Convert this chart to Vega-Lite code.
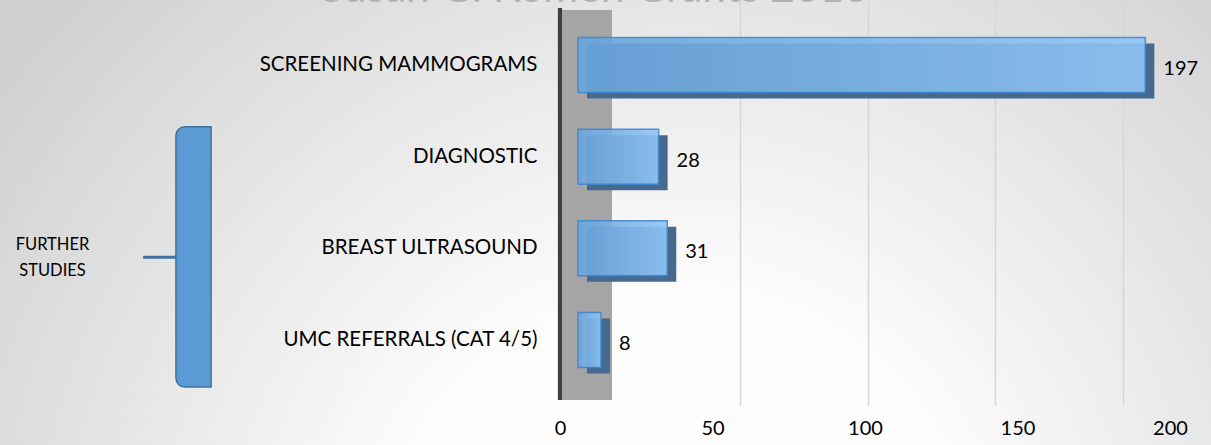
{
  "$schema": "https://vega.github.io/schema/vega-lite/v6.json",
  "width": 1211,
  "height": 445,
  "autosize": {"type": "none"},
  "padding": 0,
  "background": "#e6e6e6",
  "view": {
    "stroke": null,
    "fill": {
      "gradient": "radial",
      "x1": 0.56, "y1": 0.8, "r1": 0,
      "x2": 0.56, "y2": 0.8, "r2": 0.7,
      "stops": [
        {"offset": 0, "color": "#ffffff"},
        {"offset": 0.35, "color": "#fcfcfc"},
        {"offset": 1, "color": "#d0d0d0"}
      ]
    }
  },
  "config": {"font": "Lato"},
  "datasets": {
    "services": [
      {"category": "SCREENING MAMMOGRAMS", "count": 197},
      {"category": "DIAGNOSTIC", "count": 28},
      {"category": "BREAST ULTRASOUND", "count": 31},
      {"category": "UMC REFERRALS  (CAT 4/5)", "count": 8}
    ],
    "groups": [
      {"group": "FURTHER STUDIES", "category": "DIAGNOSTIC", "last": "UMC REFERRALS  (CAT 4/5)"}
    ]
  },
  "layer": [
    {
      "data": {"name": "services"},
      "mark": {"type": "point", "opacity": 0},
      "encoding": {
        "x": {
          "field": "count", "type": "quantitative",
          "scale": {"domain": [-239.53, 234.44], "nice": false, "zero": false},
          "axis": {
            "orient": "top", "values": [50, 100, 150, 200], "grid": true, "gridColor": "#d6d6d6", "gridWidth": 1.5, "labels": false, "ticks": false, "domain": false,
            "title": "Susan G. Komen Grants 2013", "titleFontSize": 42.5, "titleFontWeight": "normal", "titleFont": "Lato", "titleColor": "#b3b3b3",
            "titleAlign": "center", "titleBaseline": "alphabetic", "titleX": 594, "titleY": 1.5, "titleAngle": 0
          }
        },
        "y": {
          "field": "category", "type": "nominal",
          "scale": {"domain": ["SCREENING MAMMOGRAMS", "DIAGNOSTIC", "BREAST ULTRASOUND", "UMC REFERRALS  (CAT 4/5)"], "range": [0, 405], "paddingInner": 0.4, "paddingOuter": 0.408},
          "axis": {
            "orient": "left", "offset": -541, "labelPadding": 4, "labelFontSize": 20.5, "labelLimit": 400, "labelColor": "#000000", "labelFont": "Lato",
            "ticks": false, "domain": false, "grid": false,
            "title": ["FURTHER", "STUDIES"], "titleAngle": 0, "titleFontSize": 16.5, "titleFontWeight": "normal", "titleFont": "Lato",
            "titleColor": "#000000", "titleAlign": "center", "titleBaseline": "top", "titleX": -489, "titleY": 236, "titleLineHeight": 26
          }
        }
      }
    },
    {
      "data": {"name": "services"},
      "mark": {"type": "rule", "color": "#a5a5a5", "strokeWidth": 52, "xOffset": 26, "yOffset": -55, "y2Offset": 60},
      "encoding": {
        "x": {"datum": 0, "scale": {"domain": [-183.6, 213.45], "nice": false, "zero": false}, "axis": null},
        "y": {"datum": "SCREENING MAMMOGRAMS", "type": "nominal"},
        "y2": {"datum": "UMC REFERRALS  (CAT 4/5)"}
      }
    },
    {
      "data": {"name": "services"},
      "mark": {"type": "rule", "color": "#3f3f3f", "strokeWidth": 4, "yOffset": -57, "y2Offset": 60},
      "encoding": {
        "x": {"datum": 0, "scale": {"domain": [-183.6, 213.45], "nice": false, "zero": false}, "axis": null},
        "y": {"datum": "SCREENING MAMMOGRAMS", "type": "nominal"},
        "y2": {"datum": "UMC REFERRALS  (CAT 4/5)"}
      }
    },
    {
      "data": {"name": "groups"},
      "mark": {"type": "rule", "color": "#41719c", "strokeWidth": 3, "yOffset": 9},
      "encoding": {
        "x": {"datum": -151, "scale": {"domain": [-200.69, 219.8], "nice": false, "zero": false}, "axis": null},
        "x2": {"datum": -138},
        "y": {"datum": "BREAST ULTRASOUND", "type": "nominal"}
      }
    },
    {
      "data": {"name": "groups"},
      "mark": {"type": "rect", "fill": "#5b9bd5", "stroke": "#41719c", "strokeWidth": 1.5, "cornerRadiusTopLeft": 9, "cornerRadiusBottomLeft": 9, "yOffset": -30, "y2Offset": 47},
      "encoding": {
        "x": {"datum": -139.6, "scale": {"domain": [-200.69, 219.8], "nice": false, "zero": false}, "axis": null},
        "x2": {"datum": -127.4},
        "y": {"field": "category", "type": "nominal"},
        "y2": {"field": "last"}
      }
    },
    {
      "data": {"name": "services"},
      "mark": {"type": "bar", "color": "#46698f", "xOffset": 9, "x2Offset": 9, "yOffset": 6, "y2Offset": 6},
      "encoding": {
        "x": {"field": "count", "type": "quantitative", "scale": {"domain": [-200.69, 219.8], "nice": false, "zero": false}, "axis": null},
        "y": {"field": "category", "type": "nominal"}
      }
    },
    {
      "data": {"name": "services"},
      "mark": {
        "type": "bar", "stroke": "#3f86d0", "strokeWidth": 1.5, "opacity": 0.9,
        "fill": {"gradient": "linear", "x1": 0, "y1": 0, "x2": 1, "y2": 0, "stops": [{"offset": 0, "color": "#6aa5dc"}, {"offset": 1, "color": "#90c6f6"}]}
      },
      "encoding": {
        "x": {"field": "count", "type": "quantitative", "scale": {"domain": [-200.69, 219.8], "nice": false, "zero": false}, "axis": null},
        "y": {"field": "category", "type": "nominal"}
      }
    },
    {
      "data": {"name": "services"},
      "mark": {"type": "text", "align": "left", "baseline": "middle", "dx": 18, "dy": 4, "fontSize": 20, "color": "#000000", "font": "Lato"},
      "encoding": {
        "x": {"field": "count", "type": "quantitative", "scale": {"domain": [-200.69, 219.8], "nice": false, "zero": false}, "axis": null},
        "y": {"field": "category", "type": "nominal"},
        "text": {"field": "count", "type": "quantitative"}
      }
    },
    {
      "data": {"name": "services"},
      "mark": {"type": "point", "opacity": 0},
      "encoding": {
        "x": {
          "field": "count", "type": "quantitative",
          "scale": {"domain": [-183.6, 213.45], "nice": false, "zero": false},
          "axis": {"orient": "bottom", "offset": -40, "values": [0, 50, 100, 150, 200], "grid": false, "ticks": false, "domain": false, "labelFontSize": 20, "labelPadding": 13, "labelColor": "#000000", "labelFont": "Lato", "labelFlush": false, "title": null}
        },
        "y": {"field": "category", "type": "nominal"}
      }
    }
  ],
  "resolve": {"scale": {"x": "independent"}, "axis": {"x": "independent"}}
}
